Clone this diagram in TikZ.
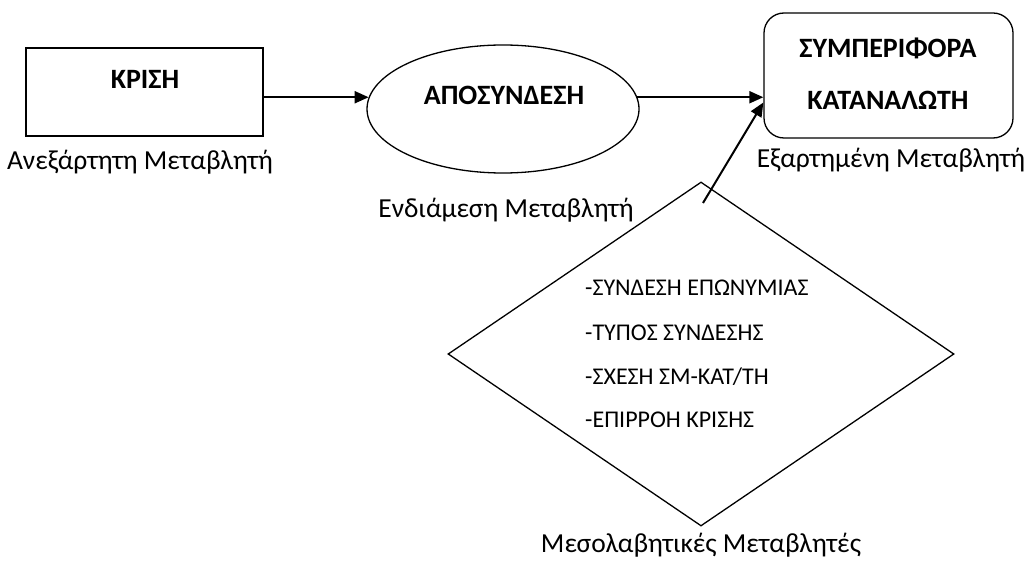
\documentclass[tikz,border=0pt]{standalone}
\usepackage{fontspec}
\setmainfont{Carlito}
\usetikzlibrary{shapes.geometric,arrows.meta}
\begin{document}
\begin{tikzpicture}[x=1pt,y=-1pt,
  shapebox/.style={draw, line width=1.3pt, inner sep=0pt},
  flow/.style={line width=2pt, -{Triangle[length=14pt,width=12pt]}},
  title/.style={font=\fontsize{28}{32}\selectfont\bfseries},
  role/.style={font=\fontsize{27.5}{32}\selectfont},
  item/.style={font=\fontsize{24}{28}\selectfont, anchor=west, inner sep=0pt}]
\useasboundingbox (0,0) rectangle (1024,561);

% main blocks
\node[shapebox, rectangle, minimum width=237pt, minimum height=88pt] (krisi) at (144.5,92) {};
\node[shapebox, ellipse, minimum width=272pt, minimum height=128pt] (apo) at (503,109) {};
\node[shapebox, rectangle, rounded corners=20pt, minimum width=249pt, minimum height=125pt] (sym) at (888.5,75.5) {};
\node[shapebox, diamond, minimum width=506pt, minimum height=344pt] (mes) at (701,354) {};

% block titles
\node[title] (tkrisi) at (145,79) {ΚΡΙΣΗ};
\node[title] (tapo) at (504,95) {ΑΠΟΣΥΝΔΕΣΗ};
\node[title] (tsym1) at (888,48) {ΣΥΜΠΕΡΙΦΟΡΑ};
\node[title] (tsym2) at (888,100) {ΚΑΤΑΝΑΛΩΤΗ};

% variable roles
\node[role] (rkrisi) at (140,162) {Ανεξάρτητη Μεταβλητή};
\node[role] (rapo) at (506,210) {Ενδιάμεση Μεταβλητή};
\node[role] (rsym) at (891,160) {Εξαρτημένη Μεταβλητή};
\node[role] (rmes) at (701,545) {Μεσολαβητικές Μεταβλητές};

% moderators listed inside the diamond
\node[item] (i1) at (585,288) {-ΣΥΝΔΕΣΗ ΕΠΩΝΥΜΙΑΣ};
\node[item] (i2) at (585,333) {-ΤΥΠΟΣ ΣΥΝΔΕΣΗΣ};
\node[item] (i3) at (585,377) {-ΣΧΕΣΗ ΣΜ-ΚΑΤ/ΤΗ};
\node[item] (i4) at (585,420) {-ΕΠΙΡΡΟΗ ΚΡΙΣΗΣ};

% connectors
\coordinate (mstart) at (703,203);
\draw[flow] (apo.175 -| krisi.east) -- (apo.175);
\draw[flow] (apo.5) -- (apo.5 -| sym.west);
\draw[flow] (mstart) -- ([yshift=-27pt]sym.west);
\end{tikzpicture}
\end{document}
